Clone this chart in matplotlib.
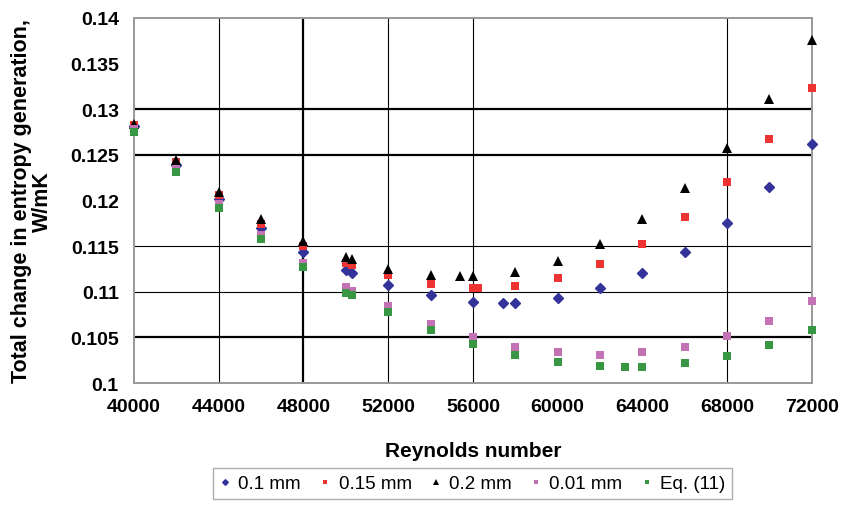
import matplotlib
matplotlib.use('Agg')
import matplotlib.pyplot as plt

plt.rcParams['font.family'] = ['Liberation Sans', 'DejaVu Sans']

# data (Reynolds number vs entropy generation, W/mK)
re_01 = [40000, 42000, 44000, 46000, 48000, 50000, 50300, 52000, 54000, 56000,
         57400, 58000, 60000, 62000, 64000, 66000, 68000, 70000, 72000]
s_01 = [0.1282, 0.1239, 0.1202, 0.1170, 0.1144, 0.1124, 0.1121, 0.1107, 0.1096, 0.1089,
        0.1088, 0.1088, 0.1093, 0.1104, 0.1121, 0.1144, 0.1175, 0.1215, 0.1262]

re_015 = [40000, 42000, 44000, 46000, 48000, 50000, 50300, 52000, 54000, 56000,
          56250, 58000, 60000, 62000, 64000, 66000, 68000, 70000, 72000]
s_015 = [0.1283, 0.1242, 0.1206, 0.1174, 0.1150, 0.1131, 0.1129, 0.1118, 0.1108, 0.1104,
         0.1104, 0.1106, 0.1115, 0.1130, 0.1152, 0.1182, 0.1220, 0.1267, 0.1323]

re_02 = [40000, 42000, 44000, 46000, 48000, 50000, 50300, 52000, 54000, 55400,
         56000, 58000, 60000, 62000, 64000, 66000, 68000, 70000, 72000]
s_02 = [0.1284, 0.1244, 0.1209, 0.1180, 0.1156, 0.1138, 0.1136, 0.1125, 0.1118, 0.1117,
        0.1117, 0.1122, 0.1134, 0.1152, 0.1180, 0.1214, 0.1258, 0.1311, 0.1376]

re_001 = [40000, 42000, 44000, 46000, 48000, 50000, 50300, 52000, 54000, 56000,
          58000, 60000, 62000, 64000, 66000, 68000, 70000, 72000]
s_001 = [0.1278, 0.1235, 0.1196, 0.1162, 0.1132, 0.1105, 0.1101, 0.1084, 0.1065, 0.1050,
         0.1039, 0.1034, 0.1031, 0.1034, 0.1040, 0.1052, 0.1068, 0.1090]

re_eq = [40000, 42000, 44000, 46000, 48000, 50000, 50300, 52000, 54000, 56000,
         58000, 60000, 62000, 63200, 64000, 66000, 68000, 70000, 72000]
s_eq = [0.1275, 0.1231, 0.1192, 0.1158, 0.1127, 0.1099, 0.1096, 0.1078, 0.1058, 0.1043,
        0.1031, 0.1023, 0.1019, 0.1018, 0.1018, 0.1022, 0.1030, 0.1042, 0.1058]

# gridlines as drawn in the original (only some of them, some heavier)
ygrid_thick = [0.13, 0.125, 0.105]
ygrid_thin = [0.115, 0.11]
xgrid_thick = [48000]
xgrid_thin = [44000, 52000, 56000, 68000]

fig = plt.figure(figsize=(8.43, 5.06), dpi=100)
ax = fig.add_axes([0.159, 0.241, 0.804, 0.7215])

for y in ygrid_thick:
    ax.axhline(y, color='black', lw=1.6, zorder=1)
for y in ygrid_thin:
    ax.axhline(y, color='black', lw=0.8, zorder=1)
for x in xgrid_thick:
    ax.axvline(x, color='black', lw=1.6, zorder=1)
for x in xgrid_thin:
    ax.axvline(x, color='black', lw=0.8, zorder=1)

ax.plot(re_01, s_01, 'D', color='#333399', ms=4.8, mec='#333399', ls='none',
        label='0.1 mm', zorder=3, clip_on=False)
ax.plot(re_015, s_015, 's', color='#ee3333', ms=5.5, mew=0, ls='none',
        label='0.15 mm', zorder=3, clip_on=False)
ax.plot(re_02, s_02, '^', color='black', ms=7.5, mew=0, ls='none',
        label='0.2 mm', zorder=3, clip_on=False)
ax.plot(re_001, s_001, 's', color='#c373b3', ms=5.5, mew=0, ls='none',
        label='0.01 mm', zorder=3, clip_on=False)
ax.plot(re_eq, s_eq, 's', color='#379743', ms=5.5, mew=0, ls='none',
        label='Eq. (11)', zorder=3, clip_on=False)

ax.set_xlim(40000, 72000)
ax.set_ylim(0.1, 0.14)
ax.set_xticks(range(40000, 72001, 4000))
ax.set_yticks([0.1, 0.105, 0.11, 0.115, 0.12, 0.125, 0.13, 0.135, 0.14])
ax.set_yticklabels(['0.1', '0.105', '0.11', '0.115', '0.12', '0.125', '0.13', '0.135', '0.14'])
ax.tick_params(length=0, labelsize=14)
ax.tick_params(axis='x', pad=11)
ax.tick_params(axis='y', pad=11)
for lab in ax.get_xticklabels() + ax.get_yticklabels():
    lab.set_fontweight('bold')

# small tick marks only where gridlines are
ax.set_xticks([40000] + xgrid_thick + xgrid_thin, minor=True)
ax.set_yticks([0.1] + ygrid_thick + ygrid_thin, minor=True)
ax.tick_params(which='minor', length=5, width=1, color='black', direction='out')

for sp in ax.spines.values():
    sp.set_color('#999999')
    sp.set_linewidth(1.4)

ax.set_xlabel('Reynolds number', fontsize=15, fontweight='bold', va='top')
ax.xaxis.set_label_coords(0.5, -0.158)
ax.set_ylabel('Total change in entropy generation,\nW/mK', fontsize=15.5,
              fontweight='bold', linespacing=1.0)
ax.yaxis.set_label_coords(-0.1195, 0.5)

leg = fig.legend(loc='lower center', bbox_to_anchor=(0.5605, -0.006), ncol=5,
                 fontsize=13.5, frameon=True, fancybox=False, markerscale=0.6,
                 handlelength=0.6, handletextpad=0.4, columnspacing=1.0,
                 borderpad=0.35)
leg.get_frame().set_edgecolor('#999999')
leg.get_frame().set_linewidth(1.0)

fig.savefig('out.png', dpi=100)
